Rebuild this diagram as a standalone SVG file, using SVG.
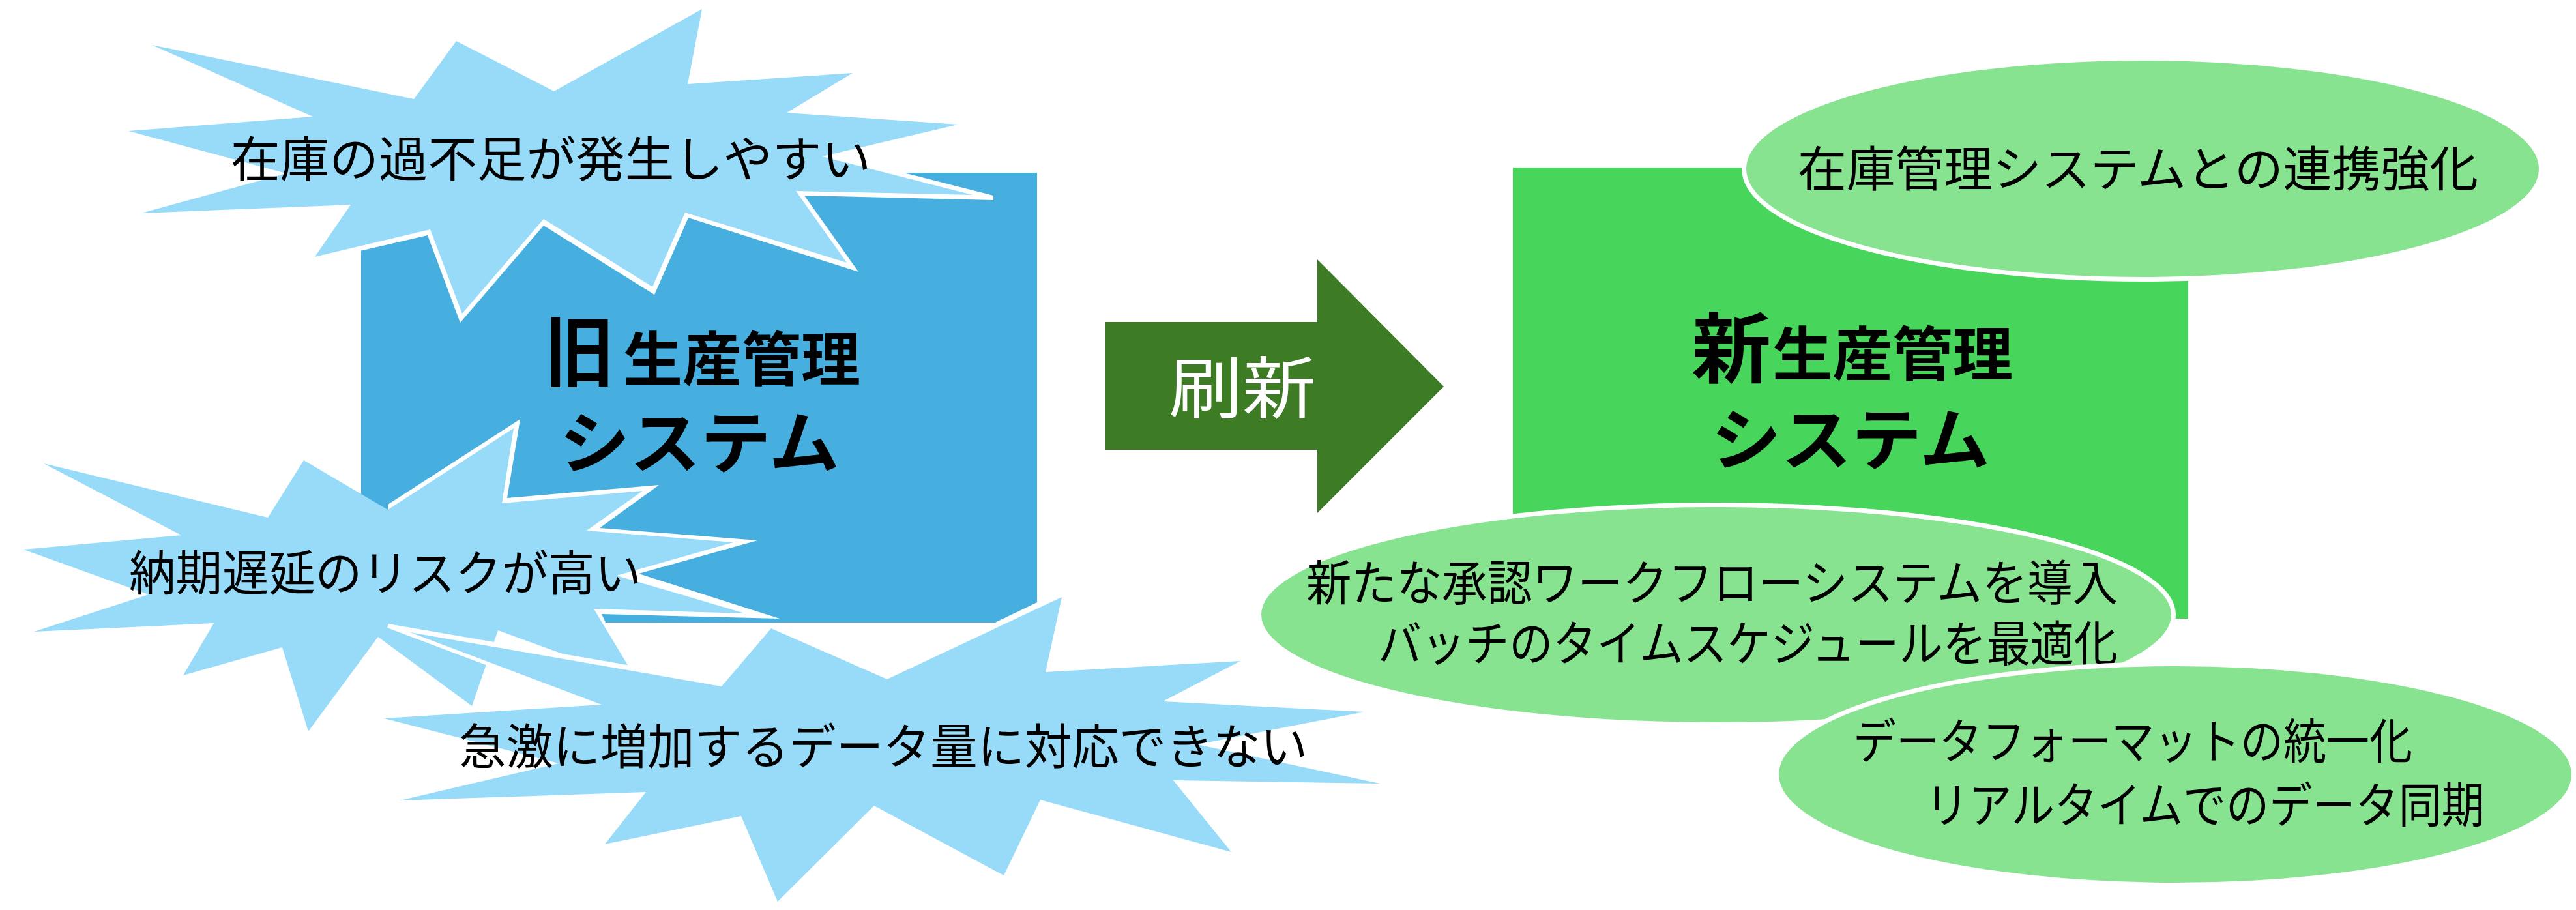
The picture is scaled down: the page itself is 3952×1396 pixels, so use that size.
<svg xmlns="http://www.w3.org/2000/svg" width="3952" height="1396" viewBox="0 0 3952 1396">
<style>
text{font-family:"Noto Sans CJK JP","Noto Sans",sans-serif;fill:#000}
.l{font-size:74px;font-weight:400}
.b{font-weight:700}
.star{fill:#97DBF9}
.halo{fill:#fff}
.oval{fill:#88E391;stroke:#fff;stroke-width:7}
</style>
<rect width="3952" height="1396" fill="#fff"/>
<g id="old-system">
<rect x="554" y="265" width="1037" height="690" fill="#47AFE0"/>
<text class="b" x="836" y="583" font-size="118" textLength="106" lengthAdjust="spacingAndGlyphs">旧</text>
<text class="b" x="956" y="584" font-size="90" textLength="364" lengthAdjust="spacingAndGlyphs">生産管理</text>
<text class="b" x="858" y="718" font-size="104" textLength="430" lengthAdjust="spacingAndGlyphs">システム</text>
</g>
<g id="new-system">
<rect x="2321" y="257" width="1036" height="692" fill="#47D65B"/>
<text class="b" x="2595" y="578" font-size="118" textLength="122" lengthAdjust="spacingAndGlyphs">新</text>
<text class="b" x="2719" y="576" font-size="90" textLength="369" lengthAdjust="spacingAndGlyphs">生産管理</text>
<text class="b" x="2625" y="713" font-size="104" textLength="428" lengthAdjust="spacingAndGlyphs">システム</text>
</g>
<g id="star-stock">
<polygon class="halo" points="1261,233 1524,300 1524,307 1234,300 1317,417 1056,334 1004,452 834,346 706,495 656,361 483,401 660,300 1000,250"/>
<polygon class="star" points="1077,14 1055,129 1308,112 1207,173 1470,191 1261,240 1492,299 1221,293 1299,403 1051,326 1001,440 834,336 709,481 660,352 483,394 538,314 217,327 439,266 197,201 480,179 233,69 635,152 700,63 850,140"/>
<text class="l" x="354" y="271" textLength="982" lengthAdjust="spacingAndGlyphs">在庫の過不足が発生しやすい</text>
</g>
<g id="star-delivery">
<polygon class="halo" points="595,774 798,643 778,764 1011,744 920,810 1162,829 980,880 1196,949 923,942 950,1000 700,900 595,800"/>
<polygon class="star" points="788,657 770,772 986,753 900,814 1125,832 946,883 1143,941 911,934 978,1045 764,967 724,1083 580,977 473,1122 433,993 281,1036 328,956 52,969 228,912 36,843 278,821 67,711 411,794 466,706 595,782"/>
<text class="l" x="198" y="906" textLength="786" lengthAdjust="spacingAndGlyphs">納期遅延のリスクが高い</text>
</g>
<g id="star-data">
<polygon class="halo" points="596,957 1107,1045 1182,956 1358,1036 1635,903 1620,1000 1120,1100 923,1087 594,963"/>
<polygon class="star" points="629,970 1107,1053 1183,964 1361,1042 1629,916 1604,1031 1903,1014 1784,1076 2093,1092 1837,1142 2117,1202 1800,1197 1889,1307 1596,1227 1540,1343 1341,1236 1193,1383 1137,1252 928,1295 991,1215 613,1228 857,1171 589,1102 923,1081"/>
<text class="l" x="704" y="1172" textLength="1302" lengthAdjust="spacingAndGlyphs">急激に増加するデータ量に対応できない</text>
</g>
<g id="oval-stock">
<ellipse class="oval" cx="3287" cy="259" rx="611.5" ry="169.5"/>
<text class="l" x="2758" y="286" textLength="1044" lengthAdjust="spacingAndGlyphs">在庫管理システムとの連携強化</text>
</g>
<g id="oval-workflow">
<ellipse class="oval" cx="2633" cy="943" rx="701.5" ry="168.5"/>
<text class="l" x="2004" y="921" textLength="1245" lengthAdjust="spacingAndGlyphs">新たな承認ワークフローシステムを導入</text>
<text class="l" x="2114" y="1014" textLength="1135" lengthAdjust="spacingAndGlyphs">バッチのタイムスケジュールを最適化</text>
</g>
<g id="oval-format">
<ellipse class="oval" cx="3337" cy="1188" rx="611.5" ry="169.5"/>
<text class="l" x="2843" y="1164" textLength="858" lengthAdjust="spacingAndGlyphs">データフォーマットの統一化</text>
<text class="l" x="2954" y="1262" textLength="858" lengthAdjust="spacingAndGlyphs">リアルタイムでのデータ同期</text>
</g>
<g id="connectors">
<polygon points="1696,494 2021,494 2021,398 2215,593 2021,787 2021,690 1696,690" fill="#3E7B25"/>
<text x="1793" y="634" font-size="104" style="fill:#fff" textLength="226" lengthAdjust="spacingAndGlyphs">刷新</text>
</g>
</svg>
